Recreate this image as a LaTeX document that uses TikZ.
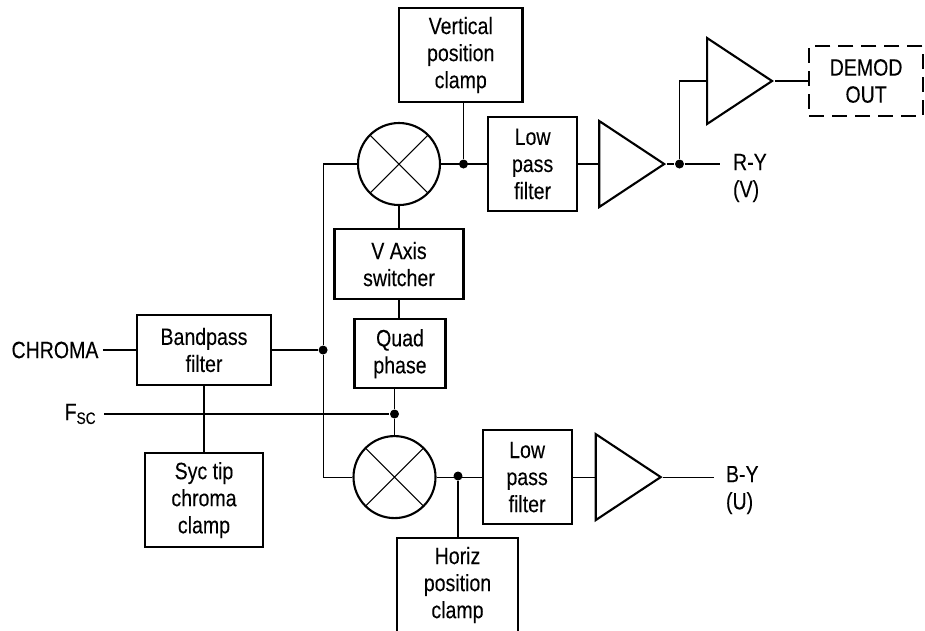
\documentclass[tikz,border=0pt]{standalone}
\usepackage{fontspec}
\setmainfont[FakeStretch=0.83,FakeBold=0.15]{Liberation Sans}
\usetikzlibrary{positioning,shapes.geometric,calc}

\begin{document}
\begin{tikzpicture}[font=\fontsize{13.4}{15.4}\selectfont,line width=0.6pt,
  box/.style={draw,line width=1.2pt,minimum width=1.78cm,minimum height=1.88cm,inner sep=0pt,align=center},
  mix/.style={draw,circle,line width=1.2pt,minimum size=1.64cm,inner sep=0pt,
    path picture={\draw[line width=0.6pt] (path picture bounding box.north west) -- (path picture bounding box.south east)
      (path picture bounding box.north east) -- (path picture bounding box.south west);}},
  amp/.style={draw,isosceles triangle,isosceles triangle stretches,line width=1.2pt,minimum width=1.72cm,minimum height=1.3cm,inner sep=0pt},
  jn/.style={circle,fill,minimum size=0.18cm,inner sep=0pt},
  io/.style={inner sep=0pt,align=left}]
  \useasboundingbox (0,-12.6) rectangle (18.5,0);
  \clip (0,-12.6) rectangle (18.5,0);
  \node[box,minimum width=2.68cm,minimum height=1.4cm] (bp) at (4.08,-7) {Bandpass\\filter};
  \node[jn,right=0.92cm of bp] (dotL) {};
  \node[io,left=0.66cm of bp,inner sep=0.08cm] (chroma) {CHROMA};
  \node[io,anchor=east,inner sep=0.14cm] (fsc) at (2.08,-8.28) {F\textsubscript{SC}};
  \node[box,below=1.32cm of bp,minimum width=2.36cm] (sync) {Syc tip\\chroma\\clamp};
  \node[mix] (mixT) at (7.98,-3.28) {};
  \node[jn] (dotV) at (9.27,-3.28) {};
  \node[box,right=0.92cm of mixT] (lpT) {Low\\pass\\filter};
  \node[amp,right=0.4cm of lpT] (ampT) {};
  \node[jn,right=0.15cm of ampT] (dotR) {};
  \node[io,right=0.71cm of dotR,yshift=-0.28cm,inner sep=0.25cm] (ry) {R-Y\\(V)};
  \node[box,minimum width=2.47cm] (vpc) at (9.215,-1.1) {Vertical\\position\\clamp};
  \node[amp,anchor=west] (ampU) at (14.12,-1.62) {};
  \node[box,dash pattern=on 0.3cm off 0.16cm,minimum width=2.27cm,minimum height=1.4cm,right=0.67cm of ampU] (demod) {DEMOD\\OUT};
  \node[box,below=0.44cm of mixT,minimum width=2.58cm,minimum height=1.4cm] (vax) {V Axis\\switcher};
  \node[box,below=0.36cm of vax,xshift=0.02cm,minimum width=1.82cm,minimum height=1.38cm] (quad) {Quad\\phase};
  \node[jn] (dotF) at (7.89,-8.28) {};
  \node[mix,below=0.32cm of dotF] (mixB) {};
  \node[jn] (dotH) at (9.16,-9.52) {};
  \node[box,right=0.9cm of mixB] (lpB) {Low\\pass\\filter};
  \node[amp,right=0.44cm of lpB] (ampB) {};
  \node[io,right=1.02cm of ampB,yshift=-0.26cm,inner sep=0.22cm] (by) {B-Y\\(U)};
  \node[box,minimum width=2.42cm] (hpc) at (9.15,-11.7) {Horiz\\position\\clamp};
  \draw (chroma) -- (bp); \draw (bp) -- (dotL); \draw (bp) -- (sync);
  \draw (fsc) -- (dotF); \draw (dotL) |- (mixT); \draw (dotL) |- (mixB);
  \draw (mixT) -- (lpT); \draw (lpT) -- (ampT); \draw (ampT) -- (dotR);
  \draw (dotR) -- (dotR -| ry.west); \draw (dotR) |- (ampU); \draw (ampU) -- (demod);
  \draw (dotV |- vpc.south) -- (dotV);
  \draw (mixT) -- (vax); \draw (vax) -- (vax |- quad.north);
  \draw (dotF |- quad.south) -- (dotF); \draw (dotF) -- (mixB);
  \draw (mixB) -- (lpB); \draw (lpB) -- (ampB); \draw (ampB) -- (ampB -| by.west);
  \draw (dotH |- hpc.north) -- (dotH);
\end{tikzpicture}
\end{document}
